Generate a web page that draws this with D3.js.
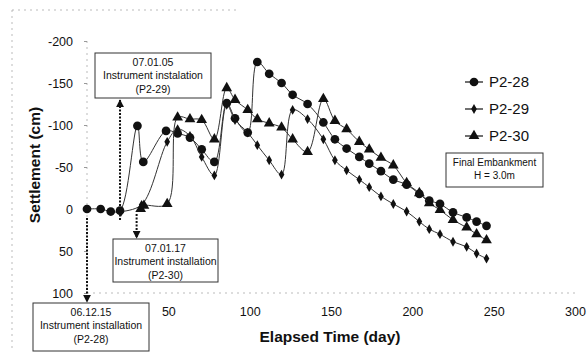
<!DOCTYPE html>
<html lang="en">
<head>
  <meta charset="UTF-8">
  <title>Settlement vs Elapsed Time</title>
  <script src="https://d3js.org/d3.v7.min.js"></script>
  <style>
    body { margin: 0; padding: 0; background: #fff; }
    svg { display: block; font-family: "Liberation Sans", Arial, sans-serif; }
  </style>
</head>
<body>
  <svg id="chart"></svg>
  <script>
    // data: [elapsed day, settlement cm] (negative = up)
    const p2_28 = [
      [0, 0], [8.4, 0], [14.6, 3], [20.3, 2], [31, -99], [34.6, -56], [48.6, -93], [55.7, -90],
      [63.3, -85], [70.5, -71], [78.3, -56], [85.9, -126], [91, -108], [98.8, -91], [104.7, -175],
      [112, -161], [119.6, -150], [126.4, -136], [135.6, -125], [145.3, -103], [152.4, -83],
      [159.6, -72], [167.4, -62], [173.5, -54], [180.7, -45], [188.3, -35], [196.5, -29],
      [204.3, -18], [210.4, -10], [217, -6], [225, 4], [233.4, 10], [239.5, 15], [245.6, 20]
    ];
    const p2_29 = [
      [21, 3], [33.6, -5], [49.3, -80], [55.7, -95], [63.3, -87], [70.5, -62], [78.3, -40],
      [85.9, -124], [91, -106], [98.8, -91], [104.7, -76], [112, -58], [119.6, -41], [126.4, -118],
      [135.6, -107], [145.3, -83], [152.4, -58], [159.6, -46], [167.4, -35], [173.5, -26],
      [180.7, -15], [188.3, -6], [196.5, 3], [204.3, 15], [210.4, 24], [217, 30], [225, 39],
      [233.4, 45], [239.5, 53], [245.6, 59]
    ];
    const p2_30 = [
      [33, 0], [35, -4], [49.3, -6], [55.7, -109], [63.3, -107], [70.5, -106], [78.3, -83],
      [85.9, -144], [91, -130], [98.8, -118], [104.7, -107], [112, -102], [119.6, -97],
      [126.4, -83], [135.6, -68], [145.3, -131], [152.4, -105], [159.6, -95], [167.4, -80],
      [173.5, -71], [180.7, -61], [188.3, -52], [196.5, -31], [204.3, -19], [210.4, -7],
      [217, 1], [225, 13], [233.4, 22], [239.5, 30], [245.6, 37]
    ];
    const seriesNames = ["P2-28", "P2-29", "P2-30"];
    // the 0 label of the x axis is hidden under the P2-28 note in the original
    const xTicks = [50, 100, 150, 200, 250, 300];
    const yTicks = [-200, -150, -100, -50, 0, 50, 100];

    const width = 587, height = 352;
    const svg = d3.select("#chart").attr("width", width).attr("height", height);

    const x = d3.scaleLinear().domain([0, 300]).range([87, 575]);
    const y = d3.scaleLinear().domain([-200, 100]).range([41, 293]);

    // faint scanned frame
    const faint = svg.append("g").attr("fill", "none").attr("stroke", "#aaa")
      .attr("stroke-width", 0.8).attr("stroke-dasharray", "2,4");
    faint.append("line").attr("x1", 12).attr("x2", 240).attr("y1", 10).attr("y2", 10);
    faint.append("line").attr("x1", 12).attr("x2", 12).attr("y1", 10).attr("y2", 350);
    faint.append("line").attr("x1", x(0)).attr("x2", x(0)).attr("y1", y(-200)).attr("y2", y(100));
    faint.append("line").attr("x1", x(0)).attr("x2", x(300)).attr("y1", y(100)).attr("y2", y(100));

    // y axis
    const yAxis = svg.append("g").attr("transform", `translate(${x(0)},0)`)
      .call(d3.axisLeft(y).tickValues(yTicks).tickFormat(d => String(d)).tickSize(3).tickPadding(11));
    yAxis.select(".domain").remove();
    yAxis.selectAll("line").attr("stroke", "#999");
    yAxis.selectAll("text").attr("font-size", 12.5).attr("fill", "#111");

    // x axis labels
    const xAxis = svg.append("g").attr("transform", `translate(0,${y(100)})`)
      .call(d3.axisBottom(x).tickValues(xTicks).tickFormat(d => String(d)).tickSize(0).tickPadding(14));
    xAxis.select(".domain").remove();
    xAxis.selectAll("text").attr("font-size", 12.5).attr("fill", "#111");

    svg.append("text").attr("x", 330).attr("y", 342).attr("text-anchor", "middle")
      .attr("font-size", 15.5).attr("font-weight", "bold").attr("fill", "#111")
      .text("Elapsed Time (day)");
    svg.append("text").attr("transform", "translate(40,165) rotate(-90)")
      .attr("text-anchor", "middle").attr("font-size", 15.5).attr("font-weight", "bold")
      .attr("fill", "#111").text("Settlement (cm)");

    const line = d3.line().x(d => x(d[0])).y(d => y(d[1])).curve(d3.curveCatmullRom.alpha(0.5));
    const symbols = [
      d3.symbol().type(d3.symbolCircle).size(60),
      d3.symbol().type(d3.symbolDiamond).size(28),
      d3.symbol().type(d3.symbolTriangle).size(50)
    ];
    const allSeries = [p2_28, p2_29, p2_30];

    allSeries.forEach((data, i) => {
      svg.append("path").datum(data).attr("fill", "none").attr("stroke", "#333")
        .attr("stroke-width", 1).attr("d", line);
      svg.append("g").selectAll("path").data(data).join("path")
        .attr("transform", d => `translate(${x(d[0])},${y(d[1])})`)
        .attr("d", symbols[i]).attr("fill", "#111");
    });

    // legend
    const legend = svg.append("g");
    seriesNames.forEach((name, i) => {
      const ly = 82 + i * 27;
      legend.append("line").attr("x1", 465).attr("x2", 483).attr("y1", ly).attr("y2", ly)
        .attr("stroke", "#111").attr("stroke-width", 1.2);
      legend.append("path").attr("transform", `translate(474,${ly})`).attr("d", symbols[i]).attr("fill", "#111");
      legend.append("text").attr("x", 489).attr("y", ly).attr("dy", "0.35em")
        .attr("font-size", 15).attr("fill", "#111").text(name);
    });

    // arrow marker
    svg.append("defs").append("marker").attr("id", "arrow")
      .attr("viewBox", "0 0 10 10").attr("refX", 9).attr("refY", 5)
      .attr("markerWidth", 4).attr("markerHeight", 4).attr("orient", "auto")
      .append("path").attr("d", "M0,0L10,5L0,10z").attr("fill", "#111");

    function arrow(x1, y1, x2, y2) {
      svg.append("line").attr("x1", x1).attr("y1", y1).attr("x2", x2).attr("y2", y2)
        .attr("stroke", "#111").attr("stroke-width", 2).attr("stroke-dasharray", "2,1.5")
        .attr("marker-end", "url(#arrow)");
    }

    function note(x0, y0, w, h, lines, fs) {
      const g = svg.append("g");
      g.append("rect").attr("x", x0).attr("y", y0).attr("width", w).attr("height", h)
        .attr("fill", "#fff").attr("stroke", "#333").attr("stroke-width", 1);
      lines.forEach((t, i) => {
        g.append("text").attr("x", x0 + w / 2).attr("y", y0 + 9 + i * 13.7).attr("dy", "0.35em")
          .attr("text-anchor", "middle").attr("font-size", fs).attr("fill", "#111").text(t);
      });
    }

    arrow(x(20.3), 220, x(20.3), 100);
    arrow(x(30.5), 214, x(30.5), 238);
    arrow(x(0), 218, x(0), 302);

    note(95, 53, 116, 45, ["07.01.05", "Instrument instalation", "(P2-29)"], 10.5);
    note(113, 239, 105, 43, ["07.01.17", "Instrument installation", "(P2-30)"], 10.5);
    note(33, 303, 116, 48, ["06.12.15", "Instrument installation", "(P2-28)"], 10.5);
    note(446, 153, 97, 34, ["Final Embankment", "H = 3.0m"], 10);
  </script>
</body>
</html>
